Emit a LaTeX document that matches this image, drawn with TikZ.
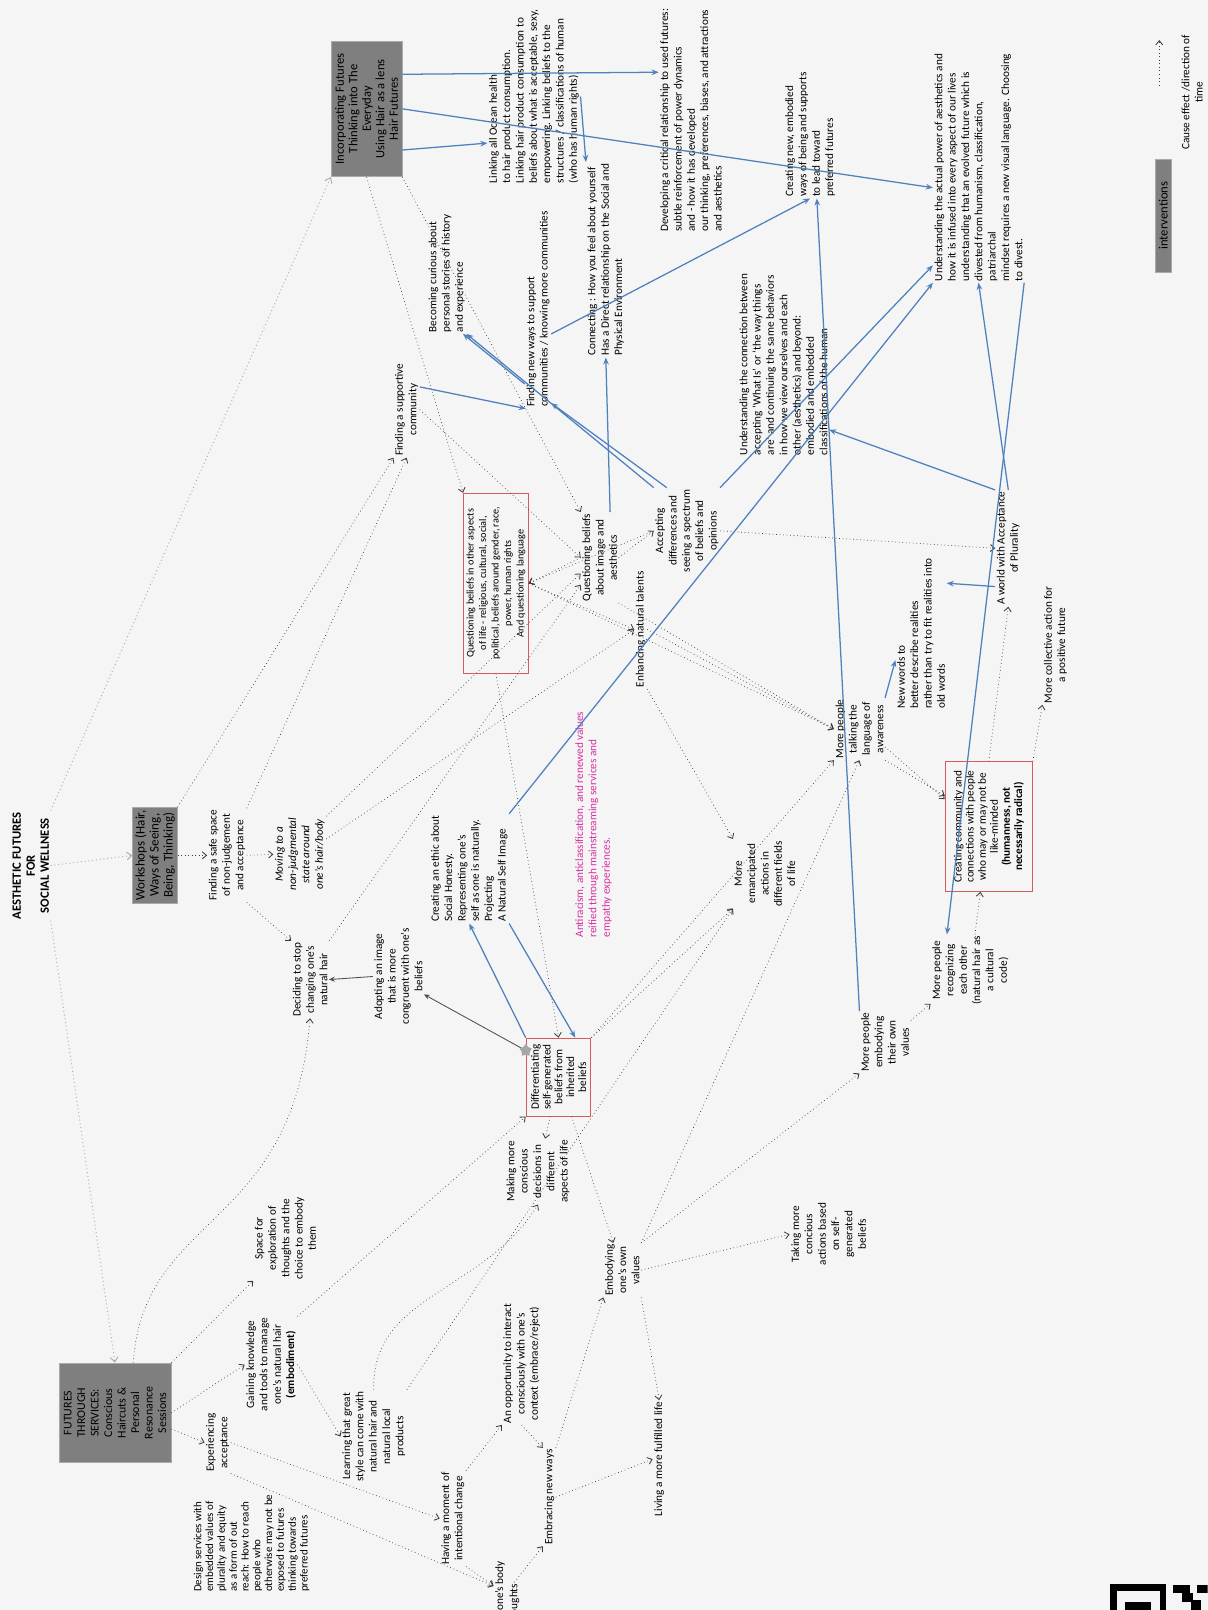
\documentclass[tikz,border=0pt]{standalone}
\usepackage{fontspec}
\setmainfont{Carlito}
\usetikzlibrary{arrows.meta, shapes.geometric}
\definecolor{bgpaper}{RGB}{245,245,245}
\definecolor{boxgray}{RGB}{127,127,127}
\definecolor{boxedge}{RGB}{170,170,170}
\definecolor{boxred}{RGB}{214,92,92}
\definecolor{linkblue}{RGB}{79,129,189}
\definecolor{notepink}{RGB}{214,48,160}
\definecolor{dotline}{RGB}{60,60,60}
\definecolor{rootline}{RGB}{175,175,175}
\tikzset{
  idea/.style={
    rotate=90,
    align=center,
    inner sep=1pt,
    font=\fontsize{8}{9.5}\selectfont
  },
  ideal/.style={
    idea,
    align=left
  },
  lever/.style={
    idea,
    fill=boxgray,
    draw=boxedge,
    line width=0.6pt
  },
  focus/.style={
    idea,
    draw=boxred,
    line width=0.7pt
  },
  cause/.style={
    draw=dotline,
    dotted,
    line width=0.5pt,
    -{Straight Barb[length=3pt,width=5pt,line width=0.6pt]}
  },
  root/.style={
    draw=rootline,
    dotted,
    line width=0.7pt,
    -{Straight Barb[length=3.5pt,width=5.5pt,line width=0.7pt]}
  },
  link/.style={
    draw=linkblue,
    line width=0.9pt,
    -{Stealth[length=5pt,width=4pt]}
  },
  hard/.style={
    draw=black!70,
    line width=0.6pt,
    -{Stealth[length=4pt,width=3.5pt]}
  },
  starmark/.style={
    star,
    star points=5,
    fill=gray!70,
    inner sep=0pt,
    minimum size=0.32cm
  }
}

\begin{document}
\begin{tikzpicture}[x=0.0257cm, y=-0.0257cm]
    % page: 1 unit = 1 px of the 1176 x 1568 sheet
    \useasboundingbox (0,0) rectangle (1176,1568);
    \fill[bgpaper] (0,0) rectangle (1176,1568);
    \clip (0,0) rectangle (1176,1568);

    % title and legend
    \node[idea, font=\fontsize{9}{10}\selectfont\bfseries] (title) at (30,843) {AESTHETIC FUTURES\\FOR\\SOCIAL WELLNESS};
    \node[lever, font=\fontsize{9}{10}\selectfont, inner sep=0pt, minimum width=2.83cm, minimum height=0.41cm] (legbox) at (1133,210) {interventions};
    \node[idea] (legtxt) at (1161,90) {Cause effect /direction of\\time};
    \coordinate (legA) at (1129,83);
    \coordinate (legB) at (1129,39);
    \draw[cause] (legA) -- (legB);

    % interventions
    \node[lever, font=\fontsize{9}{9.6}\selectfont, minimum width=3.39cm, minimum height=1.77cm] (incorp) at (357,106) {Incorporating Futures\\Thinking into The\\Everyday\\Using Hair as a lens\\Hair Futures};
    \node[lever, font=\fontsize{9.3}{10}\selectfont, minimum width=2.39cm, minimum height=1.11cm] (workshops) at (151,833) {Workshops (Hair,\\Ways of Seeing,\\Being, Thinking)};
    \node[lever, font=\fontsize{8.5}{9.6}\selectfont, minimum width=2.49cm, minimum height=2.8cm] (services) at (112,1376) {FUTURES\\THROUGH\\SERVICES:\\Conscious\\Haircuts \&\\Personal\\Resonance\\Sessions};

    % top row
    \node[ideal] (linking) at (520,94) {Linking all Ocean health\\to hair product consumption.\\Linking hair product consumption to\\beliefs about what is acceptable, sexy,\\empowering. Linking beliefs to the\\structures / classifications of human\\(who has human rights)};
    \node[ideal] (developing) at (673,117) {Developing a critical relationship to used futures:\\subtle reinforcement of power dynamics\\and - how it has developed\\our thinking, preferences, biases, and attractions\\and aesthetics};
    \node[ideal] (becoming) at (435,266) {Becoming curious about\\personal stories of history\\and experience};
    \node[ideal] (findnew) at (524,301) {Finding new ways to support\\communities  / knowing more communities};
    \node[ideal] (connecting) at (590,253) {Connecting : How you feel about yourself\\Has a Direct relationship on the Social and\\Physical Environment};
    \node[ideal] (creatingnew) at (789,131) {Creating new, embodied\\ways of being and supports\\to lead toward\\preferred futures};
    \node[ideal] (actualpower) at (953,163) {Understanding the actual power of aesthetics and\\how it is infused into every aspect of our lives\\understanding that an evolved future which is\\divested from humanism, classification,\\patriarchal\\mindset requires a new visual language.  Choosing\\to divest.};
    \node[idea] (supportive) at (396,399) {Finding a supportive\\community};
    \node[ideal] (connection) at (763,355) {Understanding the connection between\\accepting ‘What Is’ or ‘the way things\\are’ and continuing the same behaviors\\in how we view ourselves and each\\other (aesthetics) and beyond:\\embodied and embedded\\classifications of the human};

    % middle band
    \node[focus, font=\fontsize{7.3}{8.9}\selectfont, minimum width=4.5cm, minimum height=1.62cm] (qbox) at (483,568) {Questioning beliefs in other aspects\\of life - religious, cultural, social,\\political, beliefs around gender, race,\\power, human rights\\And questioning language};
    \node[idea] (qimage) at (584,543) {Questioning beliefs\\about image and\\aesthetics};
    \node[idea] (accepting) at (669,517) {Accepting\\differences and\\seeing a spectrum\\of beliefs and\\opinions};
    \node[idea] (enhancing) at (624,613) {Enhancing natural talents};
    \node[idea] (talking) at (837,710) {More people\\talking the\\language of\\awareness};
    \node[ideal] (newwords) at (897,617) {New words to\\better describe realities\\rather than try to fit realities into\\old words};
    \node[idea] (world) at (982,534) {A world with Acceptance\\of Plurality};
    \node[idea] (collective) at (1028,628) {More collective action for\\a positive future};
    \node[focus, font=\fontsize{8}{8.6}\selectfont, minimum width=3.24cm, minimum height=2.18cm] (commbox) at (963,805) {Creating community and\\connections with people\\who may or may not be\\like-minded\\\textbf{(humanness, not}\\\textbf{necessarily radical)}};
    \node[idea] (recognizing) at (945,945) {More people\\recognizing\\each other\\(natural hair as\\a cultural\\code)};
    \node[idea] (embodying2) at (862,1015) {More people\\embodying\\their own\\values};
    \node[idea] (emancipated) at (745,851) {More\\emancipated\\actions in\\different fields\\of life};
    \node[ideal, text=notepink] (antiracism) at (578,803) {Antiracism, anticlassification, and renewed values\\reified through mainstreaming services and\\empathy experiences.};
    \node[ideal] (ethic) at (457,846) {Creating an ethic about\\Social Honesty.\\Representing one’s\\self as one is naturally.\\Projecting\\A Natural Self Image};

    % left and lower band
    \node[idea] (safespace) at (221,833) {Finding a safe space\\of non-judgement\\and acceptance};
    \node[idea, font=\fontsize{8}{9.5}\selectfont\itshape] (moving) at (292,832) {Moving to a\\non-judgmental\\state around\\one's hair/body};
    \node[idea] (deciding) at (302,954) {Deciding to stop\\changing one’s\\natural hair};
    \node[idea] (adopting) at (388,951) {Adopting an image\\that is more\\congruent with one's\\beliefs};
    \node[focus, font=\fontsize{8}{8.4}\selectfont, minimum width=1.95cm, minimum height=1.62cm] (diff) at (544,1049) {Differentiating\\self-generated\\beliefs from\\inherited\\beliefs};
    \node[idea] (making) at (524,1141) {Making more\\conscious\\decisions in\\different\\aspects of life};
    \node[idea] (embodying) at (606,1237) {Embodying\\one’s own\\values};
    \node[idea] (taking) at (807,1202) {Taking more\\concious\\actions based\\on self-\\generated\\beliefs};
    \node[idea] (space) at (278,1206) {Space for\\exploration of\\thoughts and the\\choice to embody\\them};
    \node[idea] (gaining) at (264,1329) {Gaining knowledge\\and tools to manage\\one’s natural hair\\\textbf{(embodiment)}};
    \node[idea] (learning) at (364,1399) {Learning that great\\style can come with\\natural hair and\\natural local\\products};
    \node[idea] (experiencing) at (212,1405) {Experiencing\\acceptance};
    \node[ideal, font=\fontsize{7.8}{8.4}\selectfont] (design) at (245,1503) {Design services with\\embedded values of\\plurality and equity\\as a form of out\\reach:  How to reach\\people  who\\otherwise may not be\\exposed to futures\\thinking towards\\preferred futures};
    \node[idea] (moment) at (441,1479) {Having a moment of\\intentional change};
    \node[idea] (opportunity) at (508,1328) {An opportunity to interact\\consciously with one’s\\context (embrace/reject)};
    \node[idea] (embracing) at (535,1458) {Embracing new ways};
    \node[idea] (living) at (642,1421) {Living a more fulfilled life};
    \node[idea, anchor=east] (bodyA) at (487,1519) {one’s body};
    \node[idea, anchor=east] (bodyB) at (501,1541) {oughts};

    % from the title
    \draw[root] (title.south east) -- (incorp.north west);
    \draw[root] (title.south) -- (workshops.north);
    \draw[root] (title.south west) -- (services.east);

    % cause effect / direction of time
    \draw[cause] (workshops.south) -- (safespace.north);
    \draw[cause] (workshops.south east) -- (supportive.north west);
    \draw[cause] (safespace.south east) -- (supportive.west);
    \draw[cause] (safespace.south) -- (moving.north);
    \draw[cause] (safespace.south west) -- (deciding.north east);
    \draw[cause] (moving.south east) -- (qimage.130);
    \draw[cause] (moving.-60) -- (enhancing.north);
    \draw[cause] (deciding.south east) -- (qimage.145);
    \draw[cause] (incorp.west) -- (qbox.north east);
    \draw[cause] (incorp.south west) -- (qimage.north east);
    \draw[cause] (supportive.south) -- (qimage.north);
    \draw[cause] (qimage.south) -- (accepting.north);
    \draw[cause] (qimage.north) -- (qbox.south);
    \draw[cause] (accepting.north) -- (qbox.south);
    \draw[cause] (qbox.south) -- (enhancing.north);
    \draw[cause] (qbox.south) -- (talking.north);
    \draw[cause] (qimage.south west) -- (talking.north);
    \draw[cause] (enhancing.south) -- (talking.north);
    \draw[cause] (enhancing.south west) -- (emancipated.north east);
    \draw[cause] (accepting.south) -- (world.north);
    \draw[cause] (qbox.west) -- (diff.east);
    \draw[cause] (talking.south west) -- (commbox.55);
    \draw[cause] (talking.-125) -- (commbox.58);
    \draw[cause] (commbox.east) -- (world.west);
    \draw[cause] (commbox.south east) -- (collective.north west);
    \draw[cause] (recognizing) -- (commbox);
    \draw[cause] (embodying2) -- (recognizing);
    \draw[cause] (embodying.south east) -- (embodying2.north west);
    \draw[cause] (embodying.south) -- (taking.north);
    \draw[cause] (embodying.south east) -- (talking.west);
    \draw[cause] (diff.south east) -- (talking.north west);
    \draw[cause] (diff.south east) -- (emancipated.north west);
    \draw[cause] (learning.south east) -- (emancipated.north west);
    \draw[cause] (diff) -- (embodying);
    \draw[cause] (diff) -- (making);
    \draw[cause] (gaining.south east) -- (diff.north west);
    \draw[cause] (gaining.south) -- (learning.north);
    \draw[cause] (learning.east) .. controls (362,1260) and (470,1260) .. (making.west);
    \draw[cause] (services.-106) -- (experiencing.north);
    \draw[cause] (services.south) -- (gaining.north);
    \draw[cause] (services.south east) -- (space.north west);
    \draw[cause] (services.-20) .. controls (140,1180) and (285,1200) .. (deciding.west);
    \draw[cause] (experiencing.south) -- (moment.north);
    \draw[cause] (experiencing.south west) -- (bodyA.north);
    \draw[cause] (moment.south west) -- (bodyA.north);
    \draw[cause] (moment.south east) -- (opportunity.north west);
    \draw[cause] (opportunity.west) -- (embracing.north east);
    \draw[cause] (bodyB.east) -- (embracing.north west);
    \draw[cause] (embracing.south east) -- (embodying.north west);
    \draw[cause] (embracing.south) -- (living.north);
    \draw[cause] (embodying.south west) -- (living.east);

    % blue links
    \draw[link] (incorp.-139) -- (linking.135);
    \draw[link] (incorp.-46) -- (developing.34);
    \draw[link] (incorp.south) -- (actualpower.114);
    \draw[link] (linking.south) -- (connecting.north east);
    \draw[link] (supportive.-30) -- (findnew.173);
    \draw[link] (findnew.170) -- (becoming.-165);
    \draw[link] (accepting.north east) -- (becoming.south west);
    \draw[link] (accepting.25) -- (findnew.-172);
    \draw[link] (qimage.-13) -- (connecting.west);
    \draw[link] (findnew.-152) -- (creatingnew.west);
    \draw[link] (embodying2.north east) -- (creatingnew.-174);
    \draw[link] (ethic.south east) -- (actualpower.north west);
    \draw[link] (accepting.south east) -- (actualpower.155);
    \draw[link] (diff.north east) -- (ethic.west);
    \draw[link] (ethic.south west) -- (diff.-23);
    \draw[link] (talking.south east) -- (newwords.136);
    \draw[link] (world.161) -- (newwords.-27);
    \draw[link] (world.east) -- (actualpower.west);
    \draw[link] (world.north east) -- (connection.-145);
    \draw[link] (actualpower.south west) -- (recognizing.33);

    % solid arrows
    \draw[hard] (adopting.north) -- (deciding.south);
    \draw[hard] (diff.51) node[starmark] {} -- (adopting.-125);

    % code in the corner
    \fill[black] (1081,1543) rectangle (1136,1580);
    \fill[bgpaper] (1087.5,1549.5) rectangle (1129.5,1580);
    \fill[black] (1096,1560) rectangle (1121,1580);
    \fill[black] (1142,1544) rectangle (1159,1551);
    \fill[black] (1151,1551) rectangle (1162,1560);
    \fill[black] (1166,1544) rectangle (1176,1551);
    \fill[black] (1160,1558) rectangle (1170,1568);
\end{tikzpicture}
\end{document}
